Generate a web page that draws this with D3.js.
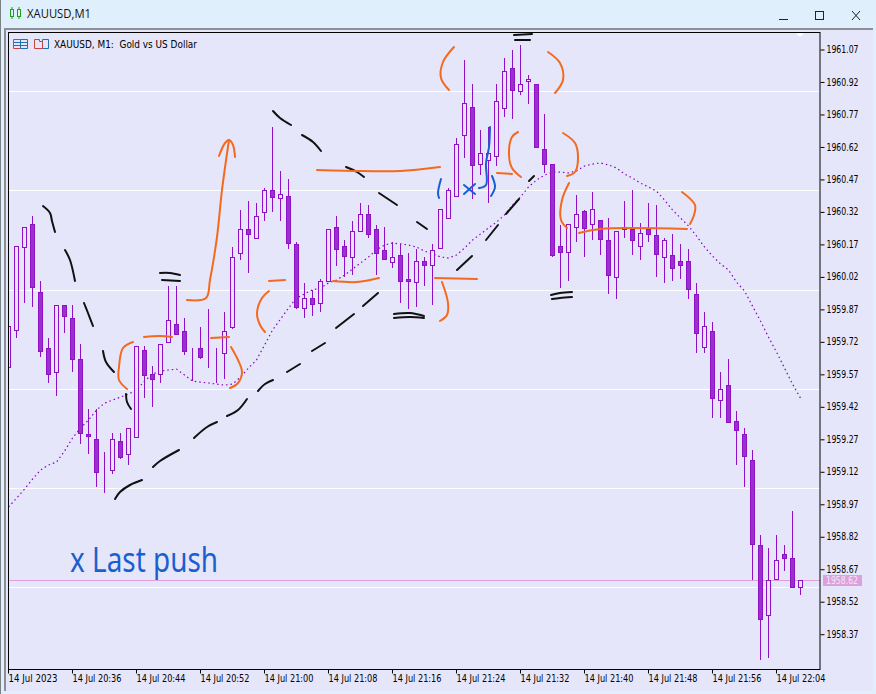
<!DOCTYPE html>
<html><head><meta charset="utf-8">
<script src="https://cdn.jsdelivr.net/npm/d3@7"></script>
<style>html,body{margin:0;padding:0;background:#dff0fc;overflow:hidden}svg{display:block}</style>
</head><body><svg id="c" width="876" height="694"></svg>
<script>
const opens=[1959.60,1959.77,1960.16,1960.26,1959.95,1959.69,1959.58,1959.89,1959.83,1959.64,
1959.29,1959.27,1959.12,1959.13,1959.26,1959.20,1959.28,1959.68,1959.57,1959.57,
1959.72,1959.80,1959.77,1959.68,1959.69,1959.66,1959.67,1959.67,1959.79,1960.13,
1960.24,1960.20,1960.32,1960.42,1960.38,1960.39,1960.17,1959.87,1959.92,1959.90,
1960.00,1960.25,1960.16,1960.11,1960.23,1960.31,1960.24,1960.14,1960.09,1960.12,
1960.01,1959.99,1960.09,1960.07,1960.15,1960.29,1960.39,1960.67,1960.80,1960.54,
1960.56,1960.58,1960.80,1960.98,1960.88,1960.92,1960.91,1960.61,1960.54,1960.16,
1960.13,1960.25,1960.32,1960.26,1960.28,1960.19,1960.02,1960.24,1960.24,1960.16,
1960.24,1960.21,1960.11,1960.12,1960.09,1960.09,1959.94,1959.69,1959.77,1959.45,
1959.52,1959.35,1959.29,1959.17,1958.78,1958.46,1958.62,1958.74,1958.72,1958.59];
const closes=[1959.79,1960.16,1960.25,1959.97,1959.68,1959.57,1959.89,1959.84,1959.64,1959.30,
1959.28,1959.12,1959.12,1959.27,1959.19,1959.32,1959.70,1959.56,1959.55,1959.71,
1959.82,1959.75,1959.68,1959.68,1959.65,1959.66,1959.67,1959.77,1960.11,1960.24,
1960.22,1960.30,1960.42,1960.39,1960.40,1960.17,1959.88,1959.92,1959.89,1960.00,
1960.24,1960.15,1960.11,1960.23,1960.31,1960.22,1960.13,1960.10,1960.11,1960.00,
1960.00,1960.09,1960.07,1960.14,1960.33,1960.42,1960.63,1960.82,1960.53,1960.59,
1960.59,1960.83,1960.97,1960.88,1960.91,1960.93,1960.62,1960.54,1960.12,1960.13,
1960.26,1960.31,1960.24,1960.33,1960.19,1960.03,1960.23,1960.25,1960.19,1960.22,
1960.22,1960.12,1960.19,1960.06,1960.07,1959.96,1959.76,1959.79,1959.46,1959.50,
1959.35,1959.31,1959.19,1958.78,1958.44,1958.62,1958.71,1958.72,1958.59,1958.62];
const highs=[1959.79,1960.16,1960.25,1960.30,1960.00,1959.74,1959.89,1959.89,1959.89,1959.71,
1959.41,1959.41,1959.21,1959.30,1959.30,1959.32,1959.70,1959.70,1959.61,1959.71,
1959.98,1959.98,1959.83,1959.69,1959.79,1959.87,1959.69,1959.86,1960.16,1960.33,
1960.37,1960.36,1960.43,1960.71,1960.51,1960.47,1960.18,1959.99,1959.96,1960.01,
1960.24,1960.30,1960.19,1960.28,1960.36,1960.35,1960.26,1960.25,1960.18,1960.17,
1960.13,1960.15,1960.11,1960.17,1960.33,1960.43,1960.66,1961.02,1960.91,1960.70,
1960.71,1960.91,1961.03,1961.07,1961.09,1960.95,1960.91,1960.77,1960.54,1960.26,
1960.26,1960.40,1960.33,1960.41,1960.28,1960.29,1960.23,1960.37,1960.42,1960.27,
1960.36,1960.35,1960.20,1960.22,1960.17,1960.15,1959.99,1959.86,1959.81,1959.58,
1959.64,1959.40,1959.32,1959.22,1958.83,1958.77,1958.83,1958.78,1958.94,1958.62];
const lows=[1959.60,1959.74,1959.90,1959.88,1959.65,1959.53,1959.47,1959.76,1959.58,1959.25,
1959.20,1959.05,1959.02,1959.11,1959.18,1959.15,1959.28,1959.46,1959.42,1959.53,
1959.72,1959.75,1959.66,1959.54,1959.64,1959.60,1959.53,1959.55,1959.78,1960.10,
1960.04,1960.20,1960.28,1960.32,1960.28,1960.15,1959.87,1959.83,1959.84,1959.86,
1960.00,1960.07,1960.02,1960.03,1960.23,1960.20,1960.03,1960.10,1960.06,1959.90,
1959.87,1959.88,1959.98,1959.89,1960.15,1960.29,1960.39,1960.57,1960.38,1960.49,
1960.36,1960.53,1960.76,1960.75,1960.86,1960.82,1960.62,1960.50,1960.11,1959.97,
1960.00,1960.18,1960.11,1960.19,1960.12,1959.94,1959.92,1960.20,1960.12,1960.10,
1960.18,1960.02,1959.99,1960.00,1960.01,1959.92,1959.67,1959.67,1959.37,1959.37,
1959.35,1959.15,1959.05,1958.62,1958.25,1958.26,1958.62,1958.66,1958.59,1958.55];
const movingAverage=[1958.957,1958.998,1959.04,1959.086,1959.128,1959.151,1959.165,1959.215,1959.276,1959.322,
1959.359,1959.405,1959.437,1959.451,1959.465,1959.479,1959.497,1959.539,1959.571,1959.585,
1959.59,1959.594,1959.567,1959.539,1959.534,1959.53,1959.525,1959.52,1959.525,1959.557,
1959.599,1959.636,1959.705,1959.774,1959.825,1959.876,1959.922,1959.941,1959.96,1959.968,
1959.992,1960.005,1960.028,1960.056,1960.084,1960.112,1960.144,1960.167,1960.176,1960.172,
1960.167,1960.158,1960.139,1960.125,1960.112,1960.107,1960.121,1960.153,1960.19,1960.218,
1960.246,1960.273,1960.306,1960.352,1960.389,1960.435,1960.467,1960.49,1960.504,1960.504,
1960.50,1960.509,1960.532,1960.541,1960.546,1960.537,1960.523,1960.495,1960.476,1960.453,
1960.435,1960.416,1960.375,1960.329,1960.292,1960.255,1960.209,1960.158,1960.116,1960.08,
1960.052,1959.996,1959.955,1959.885,1959.816,1959.742,1959.673,1959.599,1959.525,1959.46];
const priceTicks=[1961.07,1960.92,1960.77,1960.62,1960.47,1960.32,1960.17,1960.02,1959.87,1959.72,1959.57,1959.42,1959.27,1959.12,1958.97,1958.82,1958.67,1958.52,1958.37];
const gridPrices=[1960.878,1960.421,1959.961,1959.502,1959.045,1958.587];
const timeTickIndex=[0,8,16,24,32,40,48,56,64,72,80,88,96];
const timeTickLabels=["14 Jul 2023","14 Jul 20:36","14 Jul 20:44","14 Jul 20:52","14 Jul 21:00","14 Jul 21:08","14 Jul 21:16","14 Jul 21:24","14 Jul 21:32","14 Jul 21:40","14 Jul 21:48","14 Jul 21:56","14 Jul 22:04"];
const lastPrice=1958.62;

// Hand-drawn annotation ink (screen-space strokes, not chart data)
const inkBlack=[
[[43,206],[50,213],[52,221],[55,232]],[[65,250],[70,260],[75,281]],[[84,303],[88,313],[93,326]],
[[103,351],[106,362],[114,372]],[[126,394],[127,402],[131,409]],
[[115,499],[120,492],[130,485],[142,480]],[[153,467],[160,461],[179,450]],[[194,438],[207,427],[217,422]],
[[227,416],[238,410],[247,399]],[[258,391],[265,384],[273,380]],[[287,372],[300,364]],[[312,351],[325,343]],
[[336,328],[354,314]],[[363,306],[378,293]],[[457,270],[472,256]],[[486,240],[498,225]],[[506,214],[519,199]],[[529,181],[534,176]],
[[273,111],[280,118],[291,125]],[[302,135],[313,142],[321,151]],[[346,167],[357,172],[364,177]],[[379,193],[397,205]],[[417,222],[427,229]],
[[394,314],[410,313],[424,316]],[[394,318],[410,317],[424,318]],
[[514,35],[532,34]],[[515,40],[530,40]],
[[160,273],[170,273],[180,275]],[[162,280],[180,281]],
[[551,295],[560,293],[572,292]],[[552,299],[560,298],[572,297]]];
const inkOrange=[
[[187,300],[206,298],[210,280],[217,237],[222,190],[229,140]],
[[219,156],[225,143],[229,140],[233,145],[235,157]],
[[133,342],[123,348],[119,367],[119,380],[127,389]],
[[231,347],[238,360],[242,372],[238,383],[230,388]],
[[144,337],[160,336],[172,337]],[[211,338],[229,337]],
[[269,291],[262,298],[257,313],[260,325],[265,332]],[[269,281],[285,280]],
[[333,281],[357,282],[379,278]],[[435,278],[477,279]],
[[442,282],[448,303],[447,315],[440,321]],
[[317,170],[363,171],[400,171],[440,167]],
[[454,47],[443,62],[441,78],[449,90]],[[548,52],[560,63],[563,80],[555,93]],
[[518,132],[512,137],[509,155],[512,168],[521,177]],[[497,173],[512,174]],
[[563,133],[575,143],[578,157],[575,172],[567,176]],
[[569,183],[562,200],[561,220],[567,228]],
[[579,233],[600,229],[687,229]],
[[682,192],[695,205],[694,215],[690,224]]];
const inkBlue=[
[[441,179],[438,193],[439,198]],[[464,185],[475,194]],[[475,184],[464,194]],
[[490,127],[489,147],[486,163],[486,185],[479,188]],[[492,176],[495,187],[491,196]]];

const svg=d3.select("#c");
const tahoma="'DejaVu Sans',Verdana,sans-serif";
// window chrome
svg.append("rect").attr("width",876).attr("height",694).attr("fill","#dff0fc");
svg.append("rect").attr("x",0).attr("y",0).attr("width",1).attr("height",694).attr("fill","#7a8288");
svg.append("rect").attr("x",4).attr("y",29).attr("width",869).attr("height",662).attr("fill","#e6e6fa");
svg.append("rect").attr("x",4).attr("y",28).attr("width",869).attr("height",2).attr("fill","#8c9094");
svg.append("rect").attr("x",4).attr("y",28).attr("width",2).attr("height",663).attr("fill","#8c9094");
svg.append("text").attr("x",27).attr("y",18).attr("font-family","'Open Sans',sans-serif").attr("font-size",12.5).attr("fill","#111").attr("textLength",64).attr("lengthAdjust","spacingAndGlyphs").text("XAUUSD,M1");
const ico=svg.append("g").attr("fill","none").attr("stroke","#1aa31a");
ico.append("rect").attr("x",10.5).attr("y",9.5).attr("width",3).attr("height",7);
ico.append("rect").attr("x",17.5).attr("y",9.5).attr("width",3).attr("height",7);
ico.append("path").attr("d","M12 7V9M12 17V19M19 7V9M19 17V19");
const win=svg.append("g").attr("fill","none").attr("stroke","#222");
win.append("path").attr("d","M779 19.5H788");
win.append("rect").attr("x",815.5).attr("y",11.5).attr("width",8).attr("height",8);
win.append("path").attr("d","M852 11L860 20M860 11L852 20");

// scales
const x=d3.scaleLinear().domain([0,99]).range([8.5,800.5]);
const y=d3.scaleLinear().domain([1961.07,1958.37]).range([49.5,634.2]);
const plot={l:8,t:32,r:820,b:669};
svg.append("clipPath").attr("id","plotClip").append("rect").attr("x",plot.l).attr("y",plot.t).attr("width",plot.r-plot.l).attr("height",plot.b-plot.t);

// grid
svg.append("g").selectAll("line").data(gridPrices).join("line")
 .attr("x1",plot.l).attr("x2",plot.r).attr("y1",d=>Math.round(y(d))+.5).attr("y2",d=>Math.round(y(d))+.5)
 .attr("stroke","#fff").attr("stroke-width",1);
// last price line
svg.append("line").attr("x1",plot.l).attr("x2",plot.r).attr("y1",Math.round(y(lastPrice))+.5).attr("y2",Math.round(y(lastPrice))+.5).attr("stroke","#dda0dd");
// small marker
svg.append("path").attr("d",d3.line()([[796,33],[804,33],[800,37]])+"Z").attr("fill","#fff");

// moving average
svg.append("path").datum(movingAverage)
 .attr("d",d3.line().x((d,i)=>x(i)).y(d=>y(d)))
 .attr("fill","none").attr("stroke","#8a00c4").attr("stroke-width",1.2).attr("stroke-dasharray","1.5 3");

// candles
const idx=d3.range(opens.length);
const px=v=>Math.round(v-.5)+.5;
const g=svg.append("g").attr("clip-path","url(#plotClip)");
g.selectAll("line").data(idx).join("line")
 .attr("x1",i=>px(x(i))).attr("x2",i=>px(x(i)))
 .attr("y1",i=>Math.round(y(highs[i]))).attr("y2",i=>Math.round(y(lows[i])))
 .attr("stroke","#9010c8").attr("stroke-width",1);
g.selectAll("rect").data(idx).join("rect")
 .attr("x",i=>px(x(i))-2).attr("width",4)
 .attr("y",i=>px(y(Math.max(opens[i],closes[i]))))
 .attr("height",i=>Math.round(y(Math.min(opens[i],closes[i])))-Math.round(y(Math.max(opens[i],closes[i]))))
 .attr("fill",i=>closes[i]>opens[i]?"#e6e6fa":"#9932cc")
 .attr("stroke","#9010c8").attr("stroke-width",1);

// frame & axes
svg.append("rect").attr("x",plot.l+.5).attr("y",plot.t+.5).attr("width",plot.r-plot.l-.5).attr("height",plot.b-plot.t)
 .attr("fill","none").attr("stroke","#000");
const yAxis=d3.axisRight(y).tickValues(priceTicks).tickFormat(d3.format(".2f")).tickSize(4).tickPadding(2);
const ya=svg.append("g").attr("transform",`translate(${plot.r+.5},0)`).call(yAxis);
ya.select(".domain").remove();
ya.selectAll("text").attr("font-family",tahoma).attr("font-size",9.6).attr("fill","#000").attr("textLength",32).attr("lengthAdjust","spacingAndGlyphs");
ya.selectAll("line").attr("stroke","#000");
const xAxis=d3.axisBottom(x).tickValues(timeTickIndex).tickFormat((d,i)=>timeTickLabels[i]).tickSize(4).tickPadding(2);
const xa=svg.append("g").attr("transform",`translate(-0.5,${plot.b+.5})`).call(xAxis);
xa.select(".domain").remove();
xa.selectAll("text").attr("text-anchor","start").attr("font-family",tahoma).attr("font-size",9.6).attr("fill","#000").attr("textLength",49).attr("lengthAdjust","spacingAndGlyphs");
xa.selectAll("line").attr("stroke","#000");

// last price label
svg.append("rect").attr("x",823).attr("y",575).attr("width",39).attr("height",11).attr("fill","#dda0dd");
svg.append("text").attr("x",826).attr("y",584).attr("font-family",tahoma).attr("font-size",9.6).attr("fill","#f0e8f4").attr("textLength",32).attr("lengthAdjust","spacingAndGlyphs").text(lastPrice.toFixed(2));

// chart header
const hi=svg.append("g").attr("fill","none");
hi.append("path").attr("d","M20.5 39.5H13.5V48.5H20.5").attr("stroke","#d04040");
hi.append("path").attr("d","M20.5 39.5H27.5V48.5H20.5V39.5M14 42.5H27M14 45.5H27").attr("stroke","#2070b0");
hi.append("path").attr("d","M34.5 39.5H39.5V41.5H42.5V48.5H34.5Z").attr("stroke","#d04040");
hi.append("path").attr("d","M42.5 41.5V39.5H48.5V48.5H42.5").attr("stroke","#2070b0");
svg.append("text").attr("x",54).attr("y",47.5).attr("font-family",tahoma).attr("font-size",9.6).attr("fill","#000").attr("xml:space","preserve").attr("textLength",143).attr("lengthAdjust","spacingAndGlyphs").text("XAUUSD, M1:  Gold vs US Dollar");

// ink
const ink=d3.line().curve(d3.curveCatmullRom);
[[inkBlack,"#111"],[inkOrange,"#f36a1e"],[inkBlue,"#1a5fd0"]].forEach(([set,col])=>{
 svg.append("g").selectAll("path").data(set).join("path").attr("d",d=>ink(d))
  .attr("fill","none").attr("stroke",col).attr("stroke-width",2).attr("stroke-linecap","round");
});
svg.append("text").attr("x",70).attr("y",572).attr("font-family","'Noto Sans',sans-serif").attr("font-size",34)
 .attr("fill","#1a5fd0").attr("textLength",148).attr("lengthAdjust","spacingAndGlyphs").text("x Last push");
</script></body></html>
